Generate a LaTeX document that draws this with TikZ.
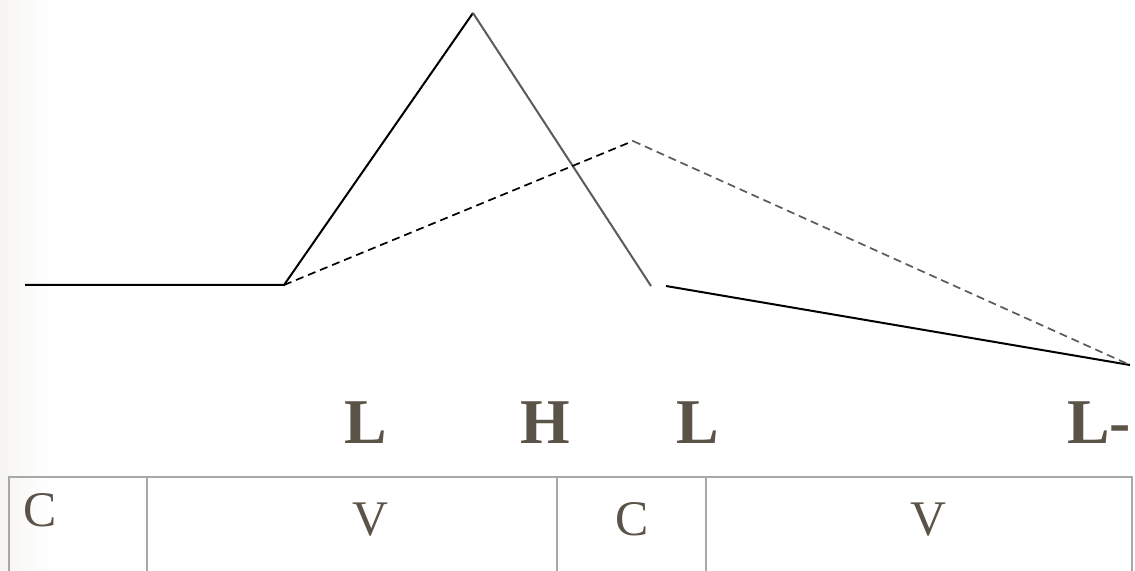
\documentclass[tikz,border=0pt]{standalone}
\usepackage{fontspec}
\setmainfont{Liberation Serif}
\begin{document}
\begin{tikzpicture}[x=1bp,y=-1bp,
  solidblack/.style={line width=2bp,black},
  solidgray/.style={line width=2bp,color=linegray},
  dashblack/.style={line width=1.7bp,black,dash pattern=on 8bp off 5bp},
  dashgray/.style={line width=1.7bp,color=linegray,dash pattern=on 8bp off 5bp},
  tone/.style={font=\fontsize{64}{74}\selectfont\bfseries,text=labelc,inner sep=0pt},
  seg/.style={font=\fontsize{50}{60}\selectfont,text=labelc,inner sep=0pt},
  grid/.style={line width=1.6bp,color=tablegray}]
\definecolor{linegray}{HTML}{5E5A55}
\definecolor{labelc}{HTML}{5B5248}
\definecolor{tablegray}{HTML}{A8A8A8}
\useasboundingbox (0,0) rectangle (1135,571);
\fill[white] (0,0) rectangle (1135,571);
\shade[left color={rgb,255:red,246;green,245;blue,243},right color=white] (0,0) rectangle (50,571);
% contour points
\coordinate (s0) at (25,285);
\coordinate (s1) at (284,285);
\coordinate (pk) at (473,13);
\coordinate (lo) at (651,286);
\coordinate (r0) at (666,286);
\coordinate (r1) at (1130,365);
\coordinate (dpk) at (633,141);
% solid contour
\draw[solidblack] (s0) -- (s1) -- (pk);
\draw[solidgray] (pk) -- (lo);
\draw[solidblack] (r0) -- (r1);
% dashed contour
\draw[dashblack] (s1) -- (dpk);
\draw[dashgray] (dpk) -- (r1);
% tone labels
\node[tone,anchor=base] (t1) at (366,443) {L};
\node[tone,anchor=base] (t2) at (545,443) {H};
\node[tone,anchor=base] (t3) at (698,443) {L};
\node[tone,anchor=base east] (t4) at (1131,443) {L-};
% table
\draw[grid] (9,571) -- (9,477) -- (1132,477) -- (1132,571);
\draw[grid] (147,477) -- (147,571);
\draw[grid] (557,477) -- (557,571);
\draw[grid] (706,477) -- (706,571);
\node[seg,anchor=base west] (c1) at (23,526) {C};
\node[seg,anchor=base] (v1) at (370,535) {V};
\node[seg,anchor=base] (c2) at (632,535) {C};
\node[seg,anchor=base] (v2) at (928,535) {V};
\end{tikzpicture}
\end{document}
